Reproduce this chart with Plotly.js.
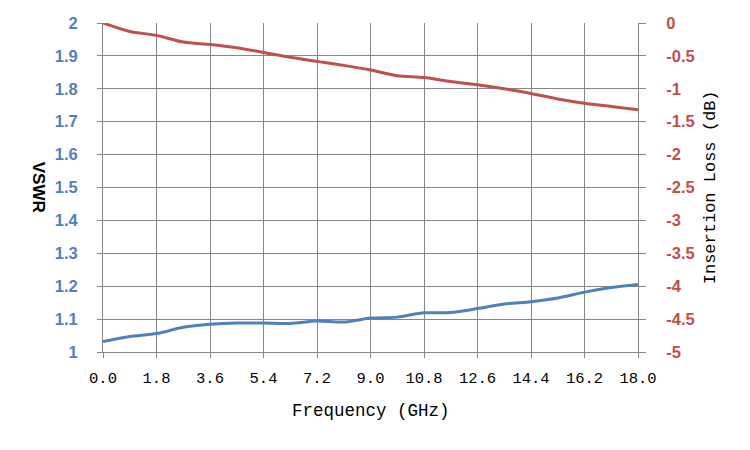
<!DOCTYPE html>
<html>
<head>
<meta charset="utf-8">
<script src="https://cdn.plot.ly/plotly-3.0.1.min.js"></script>
<style>
  html, body { margin: 0; padding: 0; background: #fff; }
  #chart { width: 750px; height: 450px; }
</style>
</head>
<body>
<div id="chart"></div>
<script>
// frequency points (GHz)
const freq = [0, 0.9, 1.8, 2.7, 3.6, 4.5, 5.4, 6.3, 7.2, 8.1, 9.0, 9.9, 10.8, 11.7, 12.6, 13.5, 14.4, 15.3, 16.2, 17.1, 18.0];
const vswr = [1.032, 1.047, 1.056, 1.075, 1.084, 1.088, 1.088, 1.087, 1.094, 1.091, 1.103, 1.106, 1.119, 1.120, 1.132, 1.146, 1.153, 1.164, 1.182, 1.196, 1.205];
const insLoss = [0, -0.128, -0.188, -0.29, -0.325, -0.375, -0.447, -0.522, -0.583, -0.644, -0.715, -0.80, -0.83, -0.89, -0.94, -1.0, -1.07, -1.155, -1.22, -1.27, -1.32];

const xTickVals = [0, 1.8, 3.6, 5.4, 7.2, 9.0, 10.8, 12.6, 14.4, 16.2, 18.0];
const xTickText = ['0.0', '1.8', '3.6', '5.4', '7.2', '9.0', '10.8', '12.6', '14.4', '16.2', '18.0'];
const vswrTickVals = [1, 1.1, 1.2, 1.3, 1.4, 1.5, 1.6, 1.7, 1.8, 1.9, 2];
const vswrTickText = ['1', '1.1', '1.2', '1.3', '1.4', '1.5', '1.6', '1.7', '1.8', '1.9', '2'];
const ilTickVals = [0, -0.5, -1, -1.5, -2, -2.5, -3, -3.5, -4, -4.5, -5];
const ilTickText = ['0', '-0.5', '-1', '-1.5', '-2', '-2.5', '-3', '-3.5', '-4', '-4.5', '-5'];

const BLUE = '#4F81BD';
const RED = '#C0504D';
const GRID = '#868686';
const MONO = 'Liberation Mono, monospace';
const SANS = 'Liberation Sans, Arial, sans-serif';

const traces = [
    {
        x: freq, y: vswr, name: 'VSWR',
        type: 'scatter', mode: 'lines',
        line: { color: BLUE, width: 3, shape: 'spline', smoothing: 0.8 },
        yaxis: 'y'
    },
    {
        x: freq, y: insLoss, name: 'Insertion Loss',
        type: 'scatter', mode: 'lines',
        line: { color: RED, width: 3, shape: 'spline', smoothing: 0.8 },
        yaxis: 'y2'
    }
];

const layout = {
    width: 750, height: 450,
    paper_bgcolor: '#fff', plot_bgcolor: '#fff',
    showlegend: false,
    margin: { l: 103, r: 112, t: 23, b: 98 },
    xaxis: {
        range: [0, 18], tickvals: xTickVals, ticktext: xTickText,
        showgrid: true, gridcolor: GRID, gridwidth: 1,
        zeroline: false, showline: true, linecolor: GRID, linewidth: 1, mirror: false,
        ticks: 'outside', ticklen: 5, tickcolor: GRID, ticklabelstandoff: 6,
        tickfont: { family: MONO, size: 15.5, color: '#000' },
        fixedrange: true
    },
    yaxis: {
        range: [1, 2], tickvals: vswrTickVals, ticktext: vswrTickText,
        showgrid: true, gridcolor: GRID, gridwidth: 1,
        zeroline: false, showline: true, linecolor: GRID, linewidth: 1,
        ticks: 'outside', ticklen: 5, tickcolor: GRID, ticklabelstandoff: 16,
        tickfont: { family: SANS, size: 16.5, color: BLUE, weight: 'bold' },
        fixedrange: true
    },
    yaxis2: {
        range: [-5, 0], tickvals: ilTickVals, ticktext: ilTickText,
        overlaying: 'y', side: 'right',
        showgrid: false, zeroline: false, showline: true, linecolor: GRID, linewidth: 1,
        ticks: 'outside', ticklen: 7, tickcolor: GRID, ticklabelstandoff: 17,
        tickfont: { family: SANS, size: 16.5, color: RED, weight: 'bold' },
        fixedrange: true
    },
    annotations: [
        {
            text: 'VSWR', xref: 'paper', yref: 'paper', x: -0.12, y: 0.5,
            xanchor: 'center', yanchor: 'middle', textangle: 90, showarrow: false,
            font: { family: SANS, size: 17, color: '#000', weight: 'bold' }
        },
        {
            text: 'Insertion Loss (dB)', xref: 'paper', yref: 'paper', x: 1.136, y: 0.5,
            xanchor: 'center', yanchor: 'middle', textangle: -90, showarrow: false,
            font: { family: MONO, size: 17, color: '#000' }
        },
        {
            text: 'Frequency (GHz)', xref: 'paper', yref: 'paper', x: 0.5, y: -0.18,
            xanchor: 'center', yanchor: 'middle', showarrow: false,
            font: { family: MONO, size: 17.5, color: '#000' }
        }
    ]
};

Plotly.newPlot('chart', traces, layout, { displayModeBar: false, staticPlot: true });
</script>
</body>
</html>
